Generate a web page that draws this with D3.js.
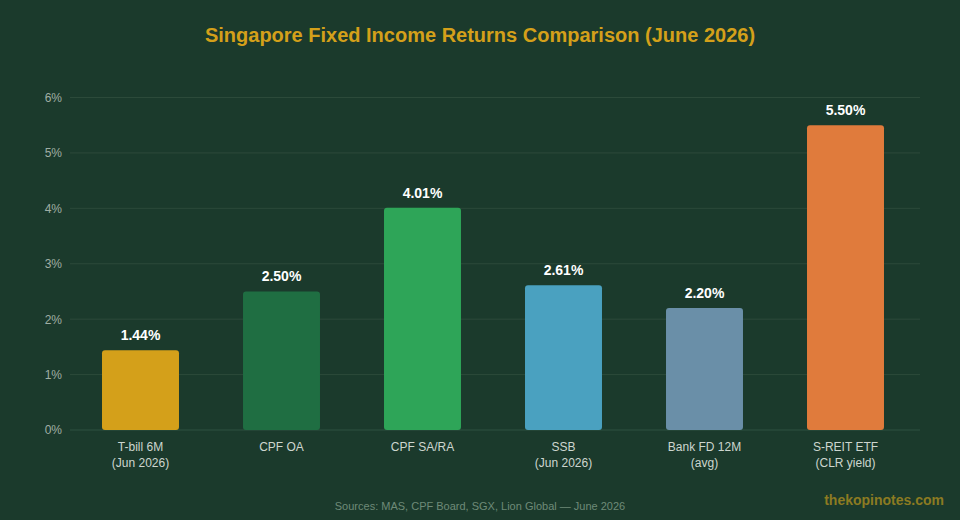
<!DOCTYPE html>
<html lang="en">
<head>
<meta charset="UTF-8">
<script src="https://d3js.org/d3.v7.min.js"></script>
<style>
    body{
        margin:0;
        background:#1b3a2c;
        font-family:"Liberation Sans", Arial, sans-serif;
    }
    #chart{ display:block; }
</style>
</head>
<body>
<svg id="chart" width="960" height="520"></svg>
<script>
    var categories = [["T-bill 6M", "(Jun 2026)"], ["CPF OA"], ["CPF SA/RA"], ["SSB", "(Jun 2026)"], ["Bank FD 12M", "(avg)"], ["S-REIT ETF", "(CLR yield)"]];
    var returns = [1.44, 2.50, 4.01, 2.61, 2.20, 5.50];
    var barColors = ["#d4a01a", "#1f6e42", "#2ea558", "#4aa1c0", "#6a8fa8", "#e07b3c"];
    var yTicks = [0, 1, 2, 3, 4, 5, 6];

    var margin = {top: 97.5, right: 40, bottom: 90, left: 70},
        width = 960 - margin.left - margin.right,
        height = 520 - margin.top - margin.bottom;

    var svg = d3.select("#chart");
    svg.append("rect").attr("width", 960).attr("height", 520).attr("fill", "#1b3a2c");

    svg.append("text")
        .attr("x", 480).attr("y", 42)
        .attr("text-anchor", "middle")
        .attr("fill", "#d4a01a")
        .style("font-size", "20px").style("font-weight", "bold")
        .text("Singapore Fixed Income Returns Comparison (June 2026)");

    var g = svg.append("g").attr("transform", "translate(" + margin.left + "," + margin.top + ")");

    var idx = d3.range(categories.length);
    var x = d3.scaleBand().domain(idx).range([0, width - 4]).paddingInner(0.454).paddingOuter(0.227);
    var y = d3.scaleLinear().domain([0, 6]).range([height, 0]);

    // grid
    g.selectAll(".grid").data(yTicks).enter().append("line")
        .attr("x1", 0).attr("x2", width)
        .attr("y1", function(d) { return y(d); }).attr("y2", function(d) { return y(d); })
        .attr("stroke", function(d) { return d === 0 ? "#2f5040" : "#2c4a3a"; })
        .attr("stroke-width", 1);

    var yAxis = g.append("g").call(d3.axisLeft(y).tickValues(yTicks).tickSize(0).tickPadding(8).tickFormat(function(d) { return d + "%"; }));
    yAxis.select(".domain").remove();
    yAxis.selectAll("text").attr("fill", "#a0aea4").style("font-size", "12px").style("font-family", "Liberation Sans, Arial, sans-serif");

    g.selectAll(".bar").data(returns).enter().append("rect")
        .attr("x", function(d, i) { return x(i); })
        .attr("width", x.bandwidth())
        .attr("y", function(d) { return y(d); })
        .attr("height", function(d) { return height - y(d); })
        .attr("rx", 3).attr("ry", 3)
        .attr("fill", function(d, i) { return barColors[i]; });

    g.selectAll(".val").data(returns).enter().append("text")
        .attr("x", function(d, i) { return x(i) + x.bandwidth() / 2; })
        .attr("y", function(d) { return y(d) - 10; })
        .attr("text-anchor", "middle")
        .attr("fill", "#ffffff")
        .style("font-size", "14px").style("font-weight", "bold")
        .text(function(d) { return d.toFixed(2) + "%"; });

    var xl = g.selectAll(".xl").data(categories).enter().append("text")
        .attr("text-anchor", "middle")
        .attr("fill", "#cdd6cf")
        .style("font-size", "12px")
        .attr("transform", function(d, i) { return "translate(" + (x(i) + x.bandwidth() / 2) + "," + (height + 21) + ")"; });
    xl.selectAll("tspan").data(function(d) { return d; }).enter().append("tspan")
        .attr("x", 0).attr("dy", function(d, i) { return i === 0 ? 0 : 16; })
        .text(function(d) { return d; });

    svg.append("text")
        .attr("x", 480).attr("y", 510)
        .attr("text-anchor", "middle")
        .attr("fill", "#6e8a78")
        .style("font-size", "11px")
        .text("Sources: MAS, CPF Board, SGX, Lion Global \u2014 June 2026");

    svg.append("text")
        .attr("x", 944).attr("y", 505)
        .attr("text-anchor", "end")
        .attr("fill", "#8c7b22")
        .style("font-size", "14px").style("font-weight", "bold")
        .text("thekopinotes.com");
</script>
</body>
</html>
